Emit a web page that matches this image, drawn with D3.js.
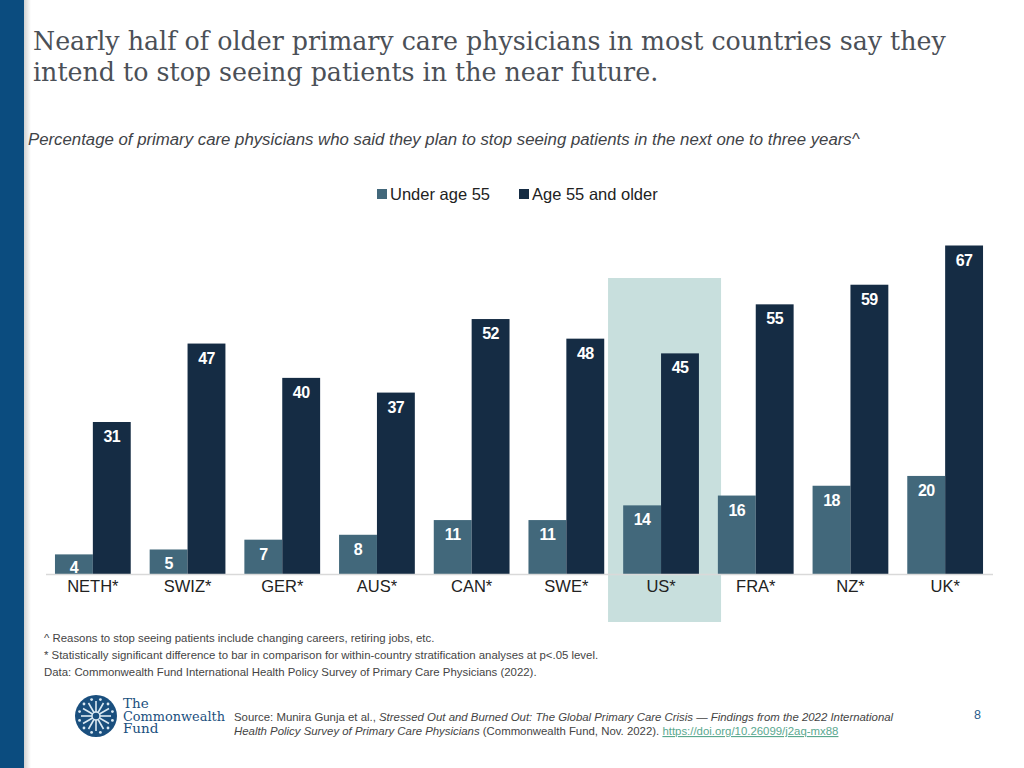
<!DOCTYPE html>
<html lang="en">
<head>
    <meta charset="UTF-8">
    <script src="https://d3js.org/d3.v7.min.js"></script>
    <style>
        body { margin: 0; background: #fff; }
        text { font-family: "Liberation Sans", Arial, sans-serif; }
        .title { font-family: "DejaVu Serif", serif; fill: #4b5057; font-size: 25.3px; }
        .sub { font-style: italic; fill: #3f4347; font-size: 16.8px; }
        .note { fill: #444; font-size: 11.4px; }
        .val { fill: #fff; font-weight: bold; font-size: 16px; letter-spacing: -0.6px; }
        .tick text { fill: #222; font-size: 16.5px; }
        .logo { font-family: "DejaVu Serif", serif; fill: #1a4f7e; font-size: 13.5px; }
    </style>
</head>
<body>
<script>
    var countries = ["NETH*", "SWIZ*", "GER*", "AUS*", "CAN*", "SWE*", "US*", "FRA*", "NZ*", "UK*"];
    var under55 = [4, 5, 7, 8, 11, 11, 14, 16, 18, 20];
    var over55 = [31, 47, 40, 37, 52, 48, 45, 55, 59, 67];
    var seriesNames = ["Under age 55", "Age 55 and older"];
    var seriesColors = ["#42687b", "#152c44"];
    var highlight = "US*";

    var W = 1024, H = 768;
    var svg = d3.select("body").append("svg")
        .attr("width", W).attr("height", H);

    // left stripe + soft shadow
    var defs = svg.append("defs");
    var grad = defs.append("linearGradient").attr("id", "shade");
    grad.append("stop").attr("offset", "0").attr("stop-color", "#000").attr("stop-opacity", 0.18);
    grad.append("stop").attr("offset", "1").attr("stop-color", "#000").attr("stop-opacity", 0);
    svg.append("rect").attr("x", 24).attr("y", 0).attr("width", 7).attr("height", H).attr("fill", "url(#shade)");
    svg.append("rect").attr("x", 0).attr("y", 0).attr("width", 24).attr("height", H).attr("fill", "#0b4c7f");

    svg.append("text").attr("class", "title").attr("x", 33).attr("y", 50)
        .text("Nearly half of older primary care physicians in most countries say they");
    svg.append("text").attr("class", "title").attr("x", 33).attr("y", 81)
        .text("intend to stop seeing patients in the near future.");
    svg.append("text").attr("class", "sub").attr("x", 28).attr("y", 145)
        .text("Percentage of primary care physicians who said they plan to stop seeing patients in the next one to three years^");

    // legend
    var leg = svg.append("g");
    [[377, 0], [519, 1]].forEach(function (p) {
        leg.append("rect").attr("x", p[0]).attr("y", 189).attr("width", 10).attr("height", 10)
            .attr("fill", seriesColors[p[1]]);
        leg.append("text").attr("x", p[0] + 13).attr("y", 200).attr("font-size", 16.5).attr("fill", "#222")
            .text(seriesNames[p[1]]);
    });

    var x0 = d3.scaleBand().domain(countries).range([45.5, 992.5]).paddingInner(0.2).paddingOuter(0.1);
    var x1 = d3.scaleBand().domain([0, 1]).range([0, x0.bandwidth()]);
    var y = d3.scaleLinear().domain([0, 67]).range([574, 245.5]);

    // highlight band behind US
    svg.append("rect")
        .attr("x", x0(highlight) + x0.bandwidth() / 2 - 53)
        .attr("y", 278).attr("width", 113).attr("height", 344)
        .attr("fill", "#c8dfdd");

    var rows = countries.map(function (c, i) { return { c: c, v: [under55[i], over55[i]] }; });
    var grp = svg.selectAll(".grp").data(rows).enter().append("g")
        .attr("transform", function (d) { return "translate(" + x0(d.c) + ",0)"; });

    grp.selectAll("rect").data(function (d) { return d.v; }).enter().append("rect")
        .attr("x", function (d, i) { return x1(i); })
        .attr("y", function (d) { return y(d); })
        .attr("width", x1.bandwidth())
        .attr("height", function (d) { return y(0) - y(d); })
        .attr("fill", function (d, i) { return seriesColors[i]; });

    grp.selectAll("text").data(function (d) { return d.v; }).enter().append("text")
        .attr("class", "val")
        .attr("x", function (d, i) { return x1(i) + x1.bandwidth() / 2; })
        .attr("y", function (d) { return Math.min(y(d) + 20, 573); })
        .attr("text-anchor", "middle")
        .text(function (d) { return d; });

    var ax = svg.append("g").attr("transform", "translate(0,574)")
        .call(d3.axisBottom(x0).tickSize(0).tickPadding(6));
    ax.select(".domain").attr("stroke", "#d9d9d9").attr("stroke-width", 1.5);
    ax.selectAll(".tick text").attr("dy", "0.71em").attr("font-family", null);

    // footnotes
    var notes = [
        "^ Reasons to stop seeing patients include changing careers, retiring jobs, etc.",
        "* Statistically significant difference to bar in comparison for within-country stratification analyses at p<.05 level.",
        "Data: Commonwealth Fund International Health Policy Survey of Primary Care Physicians (2022)."
    ];
    svg.selectAll(".fn").data(notes).enter().append("text").attr("class", "note")
        .attr("x", 44).attr("y", function (d, i) { return 642 + i * 17; })
        .text(function (d) { return d; });

    // logo
    var logo = svg.append("g").attr("transform", "translate(96,716)");
    logo.append("circle").attr("r", 21).attr("fill", "#1a4f7e");
    d3.range(12).forEach(function (k) {
        var a = k * Math.PI / 6;
        logo.append("line").attr("x1", 0).attr("y1", 0)
            .attr("x2", 15 * Math.cos(a)).attr("y2", 15 * Math.sin(a))
            .attr("stroke", "#dbe9f3").attr("stroke-width", 1.6);
        logo.append("circle").attr("cx", 17 * Math.cos(a + Math.PI / 12)).attr("cy", 17 * Math.sin(a + Math.PI / 12))
            .attr("r", 1.4).attr("fill", "#dbe9f3");
    });
    logo.append("circle").attr("r", 4).attr("fill", "#1a4f7e").attr("stroke", "#dbe9f3").attr("stroke-width", 1.5);
    var logoText = svg.append("text").attr("class", "logo");
    ["The", "Commonwealth", "Fund"].forEach(function (t, i) {
        logoText.append("tspan").attr("x", 123).attr("y", 708 + i * 12.6)
            .attr("textLength", i == 1 ? 102 : null)
            .attr("lengthAdjust", "spacingAndGlyphs")
            .text(t);
    });

    var src1 = svg.append("text").attr("class", "note").attr("x", 234).attr("y", 721);
    src1.append("tspan").text("Source: Munira Gunja et al., ");
    src1.append("tspan").attr("font-style", "italic")
        .text("Stressed Out and Burned Out: The Global Primary Care Crisis \u2014 Findings from the 2022 International");
    var src2 = svg.append("text").attr("class", "note").attr("x", 234).attr("y", 735);
    src2.append("tspan").attr("font-style", "italic").text("Health Policy Survey of Primary Care Physicians");
    src2.append("tspan").text(" (Commonwealth Fund, Nov. 2022). ");
    src2.append("tspan").attr("fill", "#5aa88f").attr("text-decoration", "underline")
        .text("https://doi.org/10.26099/j2aq-mx88");

    svg.append("text").attr("x", 974).attr("y", 719).attr("font-size", 12.5).attr("fill", "#2a5d8c").text("8");
</script>
</body>
</html>
